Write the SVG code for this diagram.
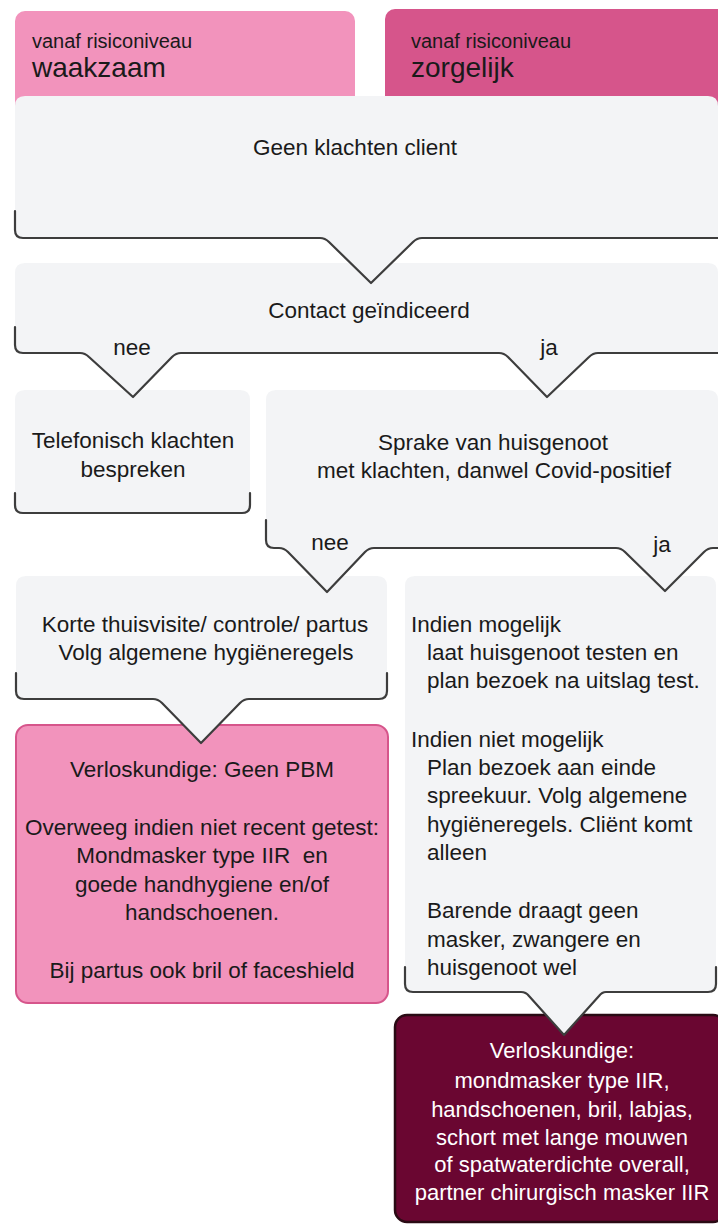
<svg xmlns="http://www.w3.org/2000/svg" width="718" height="1224" viewBox="0 0 718 1224">
<style>
text{font-family:"Liberation Sans",Arial,sans-serif;font-size:22.5px;fill:#1a1a1a}
.c{text-anchor:middle}
.bub{fill:#F3F4F6;stroke:none}
.edge{fill:none;stroke:#3d3d3d;stroke-width:2.2;stroke-linejoin:round;stroke-linecap:round}
.sm{font-size:20px}
.lg{font-size:28px}
.w{fill:#ffffff;font-size:22px}
</style>
<rect width="718" height="1224" fill="#ffffff"/>
<g id="header-waakzaam">
<rect x="15" y="11" width="340" height="110" rx="10" fill="#F293BC"/>
<text x="32" y="48" class="sm">vanaf risiconiveau</text>
<text x="32" y="77" class="lg">waakzaam</text>
</g>
<g id="header-zorgelijk">
<rect x="385" y="9" width="345" height="110" rx="10" fill="#D6558B"/>
<text x="411" y="48" class="sm">vanaf risiconiveau</text>
<text x="411" y="77" class="lg">zorgelijk</text>
</g>
<g id="pbm-zorgelijk">
<rect x="395" y="1015" width="330" height="207" rx="12" fill="#6A0631" stroke="#2A0A14" stroke-width="2.5"/>
<text x="562" y="1058" class="c w">Verloskundige:</text>
<text x="562" y="1088" class="c w">mondmasker type IIR,</text>
<text x="562" y="1117" class="c w">handschoenen, bril, labjas,</text>
<text x="562" y="1145" class="c w">schort met lange mouwen</text>
<text x="562" y="1172" class="c w">of spatwaterdichte overall,</text>
<text x="562" y="1200" class="c w">partner chirurgisch masker IIR</text>
</g>
<g id="pbm-waakzaam">
<rect x="16" y="725" width="372" height="278" rx="12" fill="#F293BC" stroke="#D6558B" stroke-width="2"/>
<text x="202" y="777" class="c">Verloskundige: Geen PBM</text>
<text x="202" y="835" class="c">Overweeg indien niet recent getest:</text>
<text x="202" y="863" class="c" xml:space="preserve">Mondmasker type IIR  en</text>
<text x="202" y="892" class="c">goede handhygiene en/of</text>
<text x="202" y="920" class="c">handschoenen.</text>
<text x="202" y="978" class="c">Bij partus ook bril of faceshield</text>
</g>
<g id="indien-mogelijk">
<path class="bub" d="M405,586 Q405,576 415,576 H706 Q716,576 716,586 V984 Q716,992 708,992 H606 Q602,992 599,996 L564,1035 L529,996 Q526,992 521,992 H413 Q405,992 405,984 Z"/>
<path class="edge" d="M405,967 V984 Q405,992 413,992 H521 Q526,992 529,996 L564,1035 L599,996 Q602,992 606,992 H708 Q716,992 716,984 V967"/>
<text x="411" y="632">Indien mogelijk</text>
<text x="427" y="660">laat huisgenoot testen en</text>
<text x="427" y="688">plan bezoek na uitslag test.</text>
<text x="411" y="747">Indien niet mogelijk</text>
<text x="427" y="775">Plan bezoek aan einde</text>
<text x="427" y="803">spreekuur. Volg algemene</text>
<text x="427" y="832">hygiëneregels. Cliënt komt</text>
<text x="427" y="860">alleen</text>
<text x="427" y="918">Barende draagt geen</text>
<text x="427" y="947">masker, zwangere en</text>
<text x="427" y="975">huisgenoot wel</text>
</g>
<g id="korte-thuisvisite">
<path class="bub" d="M16,586 Q16,576 26,576 H377 Q387,576 387,586 V691 Q387,699 379,699 H249 Q244,699 240,703 L201,743 L162,703 Q158,699 153,699 H24 Q16,699 16,691 Z"/>
<path class="edge" d="M16,673 V691 Q16,699 24,699 H153 Q158,699 162,703 L201,743 L240,703 Q244,699 249,699 H379 Q387,699 387,691 V673"/>
<text x="205" y="632" class="c">Korte thuisvisite/ controle/ partus</text>
<text x="206" y="660" class="c">Volg algemene hygiëneregels</text>
</g>
<g id="huisgenoot">
<path class="bub" d="M266,400 Q266,390 276,390 H708 Q718,390 718,400 V548 H713 Q708,548 704,552 L665,591 L625,552 Q621,548 616,548 H374 Q369,548 365,552 L327,592 L288,552 Q284,548 279,548 H274 Q266,548 266,540 Z"/>
<path class="edge" d="M266,520 V540 Q266,548 274,548 H279 Q284,548 288,552 L327,592 L365,552 Q369,548 374,548 H616 Q621,548 625,552 L665,591 L704,552 Q708,548 713,548 H720"/>
<text x="493" y="450" class="c">Sprake van huisgenoot</text>
<text x="494" y="478" class="c">met klachten, danwel Covid-positief</text>
<text x="330" y="550" class="c">nee</text>
<text x="662" y="552" class="c">ja</text>
</g>
<g id="telefonisch">
<path class="bub" d="M15,400 Q15,390 25,390 H240 Q250,390 250,400 V505 Q250,513 242,513 H23 Q15,513 15,505 Z"/>
<path class="edge" d="M15,493 V505 Q15,513 23,513 H242 Q250,513 250,505 V493"/>
<text x="133" y="448" class="c">Telefonisch klachten</text>
<text x="133" y="477" class="c">bespreken</text>
</g>
<g id="contact">
<path class="bub" d="M15,273 Q15,263 25,263 H708 Q718,263 718,273 V353 H598 Q593,353 589,357 L547,397 L508,357 Q504,353 499,353 H181 Q176,353 172,357 L133,397 L89,357 Q85,353 80,353 H23 Q15,353 15,345 Z"/>
<path class="edge" d="M15,327 V345 Q15,353 23,353 H80 Q85,353 89,357 L133,397 L172,357 Q176,353 181,353 H499 Q504,353 508,357 L547,397 L589,357 Q593,353 598,353 H720"/>
<text x="369" y="318" class="c">Contact geïndiceerd</text>
<text x="132" y="355" class="c">nee</text>
<text x="549" y="355" class="c">ja</text>
</g>
<g id="geen-klachten">
<path class="bub" d="M15,106 Q15,96 25,96 H708 Q718,96 718,106 V238 H422 Q417,238 413,242 L371,283 L329,242 Q325,238 320,238 H23 Q15,238 15,230 Z"/>
<path class="edge" d="M15,211 V230 Q15,238 23,238 H320 Q325,238 329,242 L371,283 L413,242 Q417,238 422,238 H720"/>
<text x="355" y="155" class="c">Geen klachten client</text>
</g>
</svg>
